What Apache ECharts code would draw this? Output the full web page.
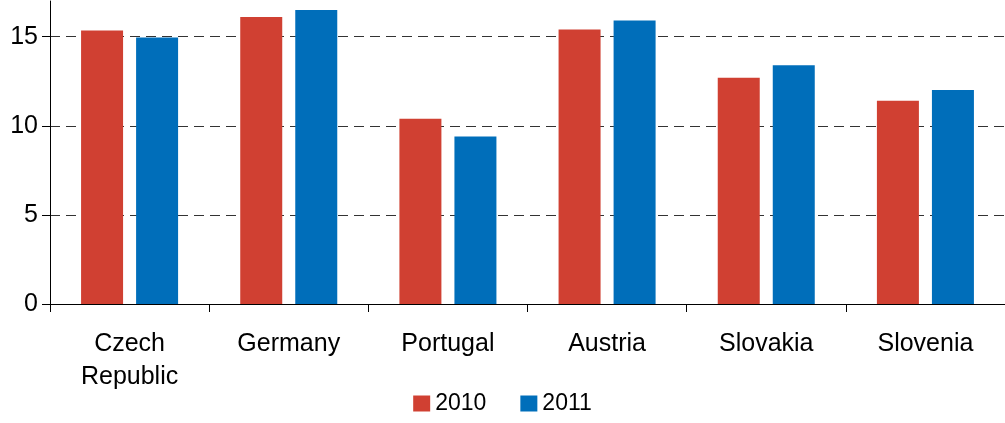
<!DOCTYPE html>
<html>
<head>
<meta charset="utf-8">
<script src="https://cdn.jsdelivr.net/npm/echarts@6/dist/echarts.min.js"></script>
<style>
  html, body { margin: 0; padding: 0; background: #fff; }
  #chart { width: 1005px; height: 423px; }
</style>
</head>
<body>
<div id="chart"></div>
<script>
var countries = ['Czech\nRepublic', 'Germany', 'Portugal', 'Austria', 'Slovakia', 'Slovenia'];
var values2010 = [15.35, 16.1, 10.4, 15.4, 12.7, 11.4];
var values2011 = [14.95, 16.5, 9.4, 15.9, 13.4, 12.0];
var yTicks = [0, 5, 10, 15];

var myChart = echarts.init(document.getElementById('chart'));
var font = '"Liberation Sans", Arial, sans-serif';

var option = {
    animation: false,
    textStyle: { fontFamily: font },
    grid: { left: 50, right: 0, top: 1, bottom: 119 },
    legend: {
        data: ['2010', '2011'],
        bottom: 3,
        left: 'center',
        itemWidth: 17,
        itemHeight: 16,
        itemGap: 34,
        icon: 'rect',
        textStyle: { fontSize: 23, color: '#000', fontFamily: font }
    },
    xAxis: {
        type: 'category',
        data: countries,
        axisLine: { lineStyle: { color: '#000', width: 1 } },
        axisTick: { show: true, length: 8, inside: false, lineStyle: { color: '#000' } },
        axisLabel: { color: '#000', fontSize: 25, margin: 24, lineHeight: 33, fontFamily: font }
    },
    yAxis: {
        type: 'value',
        min: 0,
        max: 17,
        interval: 5,
        axisLine: { show: true, lineStyle: { color: '#000', width: 1 } },
        axisTick: { show: true, length: 8, customValues: yTicks, lineStyle: { color: '#000' } },
        axisLabel: { color: '#000', fontSize: 25, margin: 12, customValues: yTicks, fontFamily: font },
        splitLine: {
            show: true,
            lineStyle: { color: '#333', type: [10, 6], width: 1 }
        }
    },
    series: [
        {
            name: '2010',
            type: 'bar',
            data: values2010,
            barWidth: 42,
            barGap: '31%',
            itemStyle: { color: '#D04032' }
        },
        {
            name: '2011',
            type: 'bar',
            data: values2011,
            barWidth: 42,
            itemStyle: { color: '#006EBA' }
        }
    ]
};

myChart.setOption(option, true);
window.onresize = function () {
    myChart.resize();
};
</script>
</body>
</html>
